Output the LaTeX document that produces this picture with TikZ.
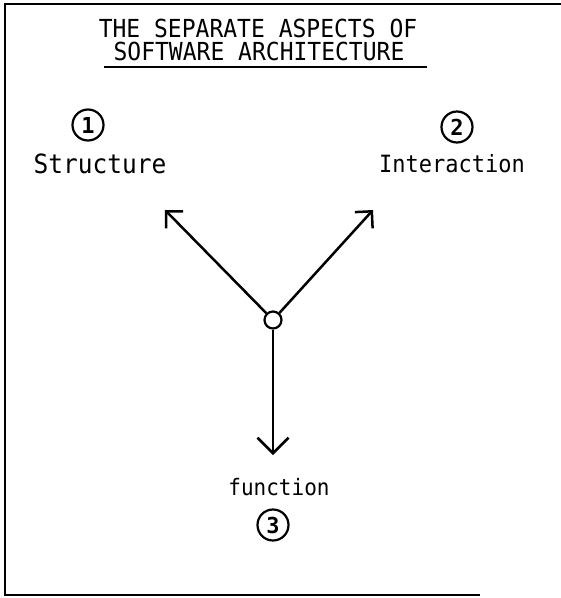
\documentclass[tikz,border=0pt]{standalone}
\usepackage{fontspec}
\setmonofont{DejaVu Sans Mono}
\usetikzlibrary{arrows.meta}
\newcommand{\tallt}[1]{\scalebox{1}[1.08]{#1}}
\begin{document}
\begin{tikzpicture}[x=1pt,y=-1pt,
  lbl/.style={inner sep=0pt},
  num/.style={draw,circle,line width=2.2pt,minimum size=31pt,inner sep=0pt,font=\ttfamily\bfseries\fontsize{22}{22}\selectfont},
  arr/.style={line width=2.5pt,-{Straight Barb[angle=90:17pt,line width=2.5pt]}},
  frame/.style={line width=2.5pt}]
\useasboundingbox (0,0) rectangle (561,598);
\draw[frame] (561,4) -- (5,4) -- (5,595) -- (480,595);
\node[lbl,font=\ttfamily\fontsize{23}{23}\selectfont] (t1) at (258,28) {\tallt{THE SEPARATE ASPECTS OF}};
\node[lbl,font=\ttfamily\fontsize{23}{23}\selectfont] (t2) at (259,51) {\tallt{SOFTWARE ARCHITECTURE}};
\coordinate (u1) at (104,67);
\coordinate (u2) at (427,67);
\draw[line width=2.3pt] (u1) -- (u2);
\node[num] (n1) at (88,125) {1};
\node[num] (n2) at (457,127) {2};
\node[num] (n3) at (273,525) {3};
\node[lbl,font=\ttfamily\fontsize{24.5}{24.5}\selectfont] (s) at (100,164) {\tallt{Structure}};
\node[lbl,font=\ttfamily\fontsize{22}{22}\selectfont] (i) at (452,164) {\tallt{Interaction}};
\node[lbl,font=\ttfamily\fontsize{21}{21}\selectfont] (f) at (279,487) {\tallt{function}};
\node[draw,circle,line width=2.2pt,minimum size=17pt,inner sep=0pt] (c) at (273,320) {};
\coordinate (a1) at (165,210);
\coordinate (a2) at (373,210);
\coordinate (a3) at (273,455);
\draw[arr] (c) -- (a1);
\draw[arr] (c) -- (a2);
\draw[line width=2.5pt,-{Straight Barb[angle=90:22pt,line width=2.5pt]}] (c) -- (a3);
\end{tikzpicture}
\end{document}
